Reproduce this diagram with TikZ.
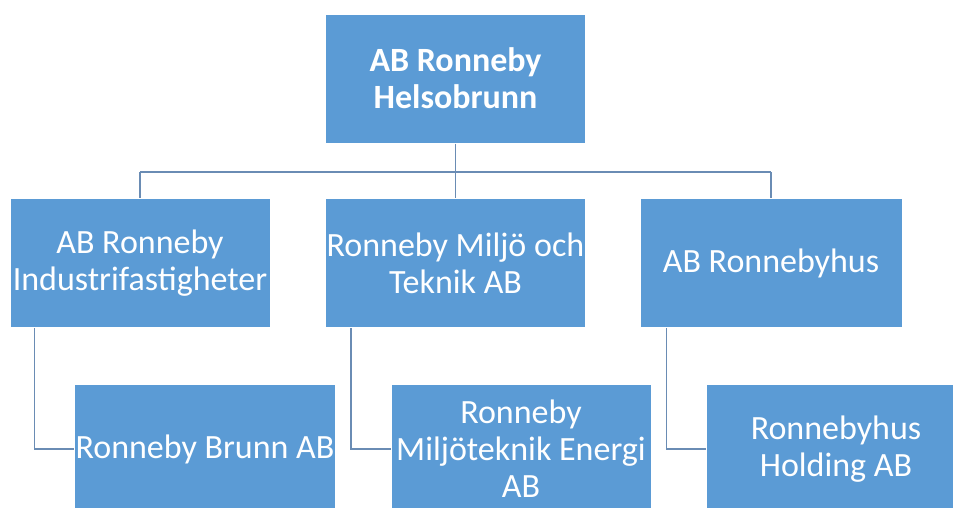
\documentclass[tikz,border=0pt]{standalone}
\usepackage{fontspec}
\setmainfont{Carlito}
\definecolor{boxblue}{HTML}{5B9BD5}
\definecolor{linkblue}{HTML}{6A8CB4}
\begin{document}
\begin{tikzpicture}[x=1pt,y=-1pt,
  orgbox/.style={rectangle, fill=boxblue, draw=white, line width=1pt,
    minimum width=260pt, minimum height=129pt, inner sep=1pt,
    text=white, align=center, font=\fontsize{34}{37}\selectfont},
  link/.style={draw=linkblue, line width=1.4pt}]
\useasboundingbox (0,0) rectangle (953,507);
\clip (0,0) rectangle (953,507);
\node[orgbox, font=\bfseries\fontsize{34}{37}\selectfont] (top) at (455.5,78.5) {AB Ronneby\\Helsobrunn};
\node[orgbox] (l2) at (140,263) {AB Ronneby\\Industrifastigheter};
\node[orgbox] (m2) at (455.5,263) {Ronneby Miljö och\\Teknik AB};
\node[orgbox, minimum width=262pt] (r2) at (771,263) {AB Ronnebyhus};
\node[orgbox] (l3) at (205,449) {Ronneby Brunn AB};
\node[orgbox] (m3) at (521,449) {Ronneby\\Miljöteknik Energi\\AB};
\node[orgbox] (r3) at (836,449) {Ronnebyhus\\Holding AB};
\coordinate (busL) at (140,172);
\coordinate (busR) at (771,172);
\draw[link] (top.south) -- (top.south |- busL);
\draw[link] (busL) -- (busR);
\draw[link] (busL) -- (l2.north);
\draw[link] (m2.north |- busL) -- (m2.north);
\draw[link] (busR) -- (r2.north);
\draw[link] ([xshift=25pt]l2.south west) |- (l3.west);
\draw[link] ([xshift=26pt]m2.south west) |- (m3.west);
\draw[link] ([xshift=27pt]r2.south west) |- (r3.west);
\end{tikzpicture}
\end{document}
